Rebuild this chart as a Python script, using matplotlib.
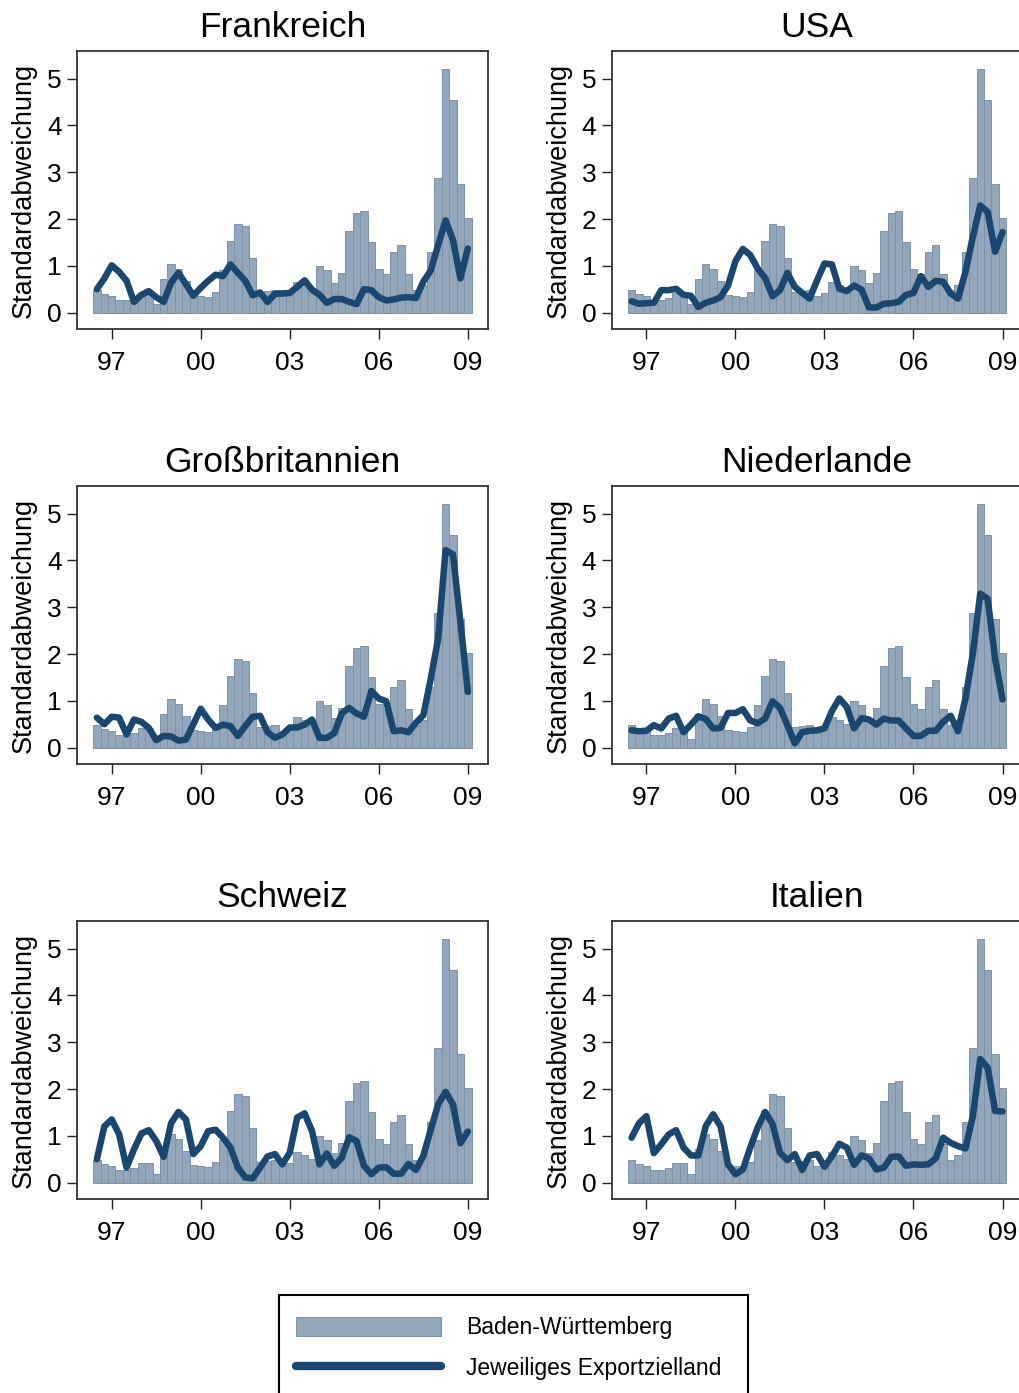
import matplotlib
matplotlib.use("Agg")
import matplotlib.pyplot as plt
from matplotlib.patches import Patch, Rectangle
from matplotlib.lines import Line2D
import numpy as np

plt.rcParams["font.family"] = ["Liberation Sans", "DejaVu Sans"]

# Quarterly observations 1996Q3 .. 2009Q1 (year + (quarter-1)/4)
first_year, first_quarter, n_quarters = 1996, 3, 51
quarters = [first_year + (first_quarter - 1 + i) / 4 for i in range(n_quarters)]

# Standard deviation, Baden-Württemberg (same in every panel)
bw = [0.48, 0.40, 0.36, 0.26, 0.28, 0.32, 0.42, 0.42, 0.19, 0.71,
      1.04, 0.94, 0.68, 0.38, 0.35, 0.33, 0.43, 0.90, 1.52, 1.90,
      1.86, 1.17, 0.43, 0.46, 0.48, 0.35, 0.42, 0.66, 0.59, 0.51,
      1.00, 0.90, 0.63, 0.85, 1.75, 2.12, 2.17, 1.51, 0.93, 0.83,
      1.30, 1.45, 0.83, 0.49, 0.58, 1.30, 2.88, 5.21, 4.54, 2.74, 2.03]

# Standard deviation, respective export destination
frankreich = [0.50, 0.73, 1.01, 0.87, 0.68, 0.23, 0.38, 0.46, 0.33, 0.23,
              0.64, 0.85, 0.61, 0.36, 0.53, 0.68, 0.81, 0.78, 1.03, 0.85,
              0.68, 0.37, 0.43, 0.23, 0.40, 0.41, 0.42, 0.55, 0.69, 0.49,
              0.38, 0.21, 0.29, 0.29, 0.23, 0.18, 0.50, 0.48, 0.33, 0.26,
              0.28, 0.32, 0.33, 0.31, 0.66, 0.90, 1.44, 1.97, 1.55, 0.73, 1.37]
usa = [0.24, 0.19, 0.20, 0.21, 0.48, 0.48, 0.51, 0.38, 0.36, 0.12,
       0.21, 0.26, 0.33, 0.58, 1.10, 1.36, 1.23, 0.94, 0.74, 0.35,
       0.48, 0.85, 0.55, 0.42, 0.30, 0.69, 1.05, 1.03, 0.51, 0.46,
       0.58, 0.49, 0.11, 0.11, 0.19, 0.20, 0.23, 0.38, 0.42, 0.78,
       0.55, 0.68, 0.66, 0.41, 0.30, 0.87, 1.62, 2.29, 2.15, 1.30, 1.72]
grossbritannien = [0.64, 0.50, 0.66, 0.64, 0.28, 0.60, 0.55, 0.42, 0.16, 0.25,
                   0.24, 0.15, 0.17, 0.50, 0.83, 0.60, 0.42, 0.49, 0.46, 0.25,
                   0.46, 0.66, 0.68, 0.33, 0.21, 0.28, 0.43, 0.43, 0.49, 0.60,
                   0.21, 0.21, 0.31, 0.73, 0.85, 0.73, 0.66, 1.21, 1.05, 0.99,
                   0.35, 0.37, 0.33, 0.53, 0.69, 1.47, 2.33, 4.22, 4.13, 2.69, 1.19]
niederlande = [0.37, 0.35, 0.36, 0.48, 0.41, 0.62, 0.68, 0.33, 0.49, 0.67,
               0.61, 0.41, 0.42, 0.74, 0.74, 0.82, 0.58, 0.52, 0.62, 0.99,
               0.85, 0.48, 0.09, 0.33, 0.36, 0.37, 0.41, 0.78, 1.05, 0.87,
               0.41, 0.63, 0.60, 0.49, 0.62, 0.58, 0.58, 0.41, 0.25, 0.25,
               0.36, 0.36, 0.55, 0.68, 0.35, 1.05, 2.01, 3.29, 3.18, 1.90, 1.03]
schweiz = [0.50, 1.20, 1.35, 1.03, 0.32, 0.71, 1.05, 1.12, 0.89, 0.55,
           1.27, 1.51, 1.35, 0.61, 0.78, 1.10, 1.13, 0.96, 0.75, 0.32,
           0.11, 0.09, 0.32, 0.56, 0.61, 0.39, 0.64, 1.39, 1.48, 1.10,
           0.39, 0.62, 0.36, 0.53, 0.97, 0.89, 0.36, 0.18, 0.32, 0.33,
           0.19, 0.19, 0.40, 0.27, 0.57, 1.13, 1.67, 1.94, 1.67, 0.84, 1.09]
italien = [0.96, 1.27, 1.42, 0.63, 0.82, 1.03, 1.12, 0.75, 0.58, 0.58,
           1.21, 1.46, 1.20, 0.39, 0.18, 0.28, 0.75, 1.18, 1.51, 1.25,
           0.64, 0.48, 0.61, 0.27, 0.58, 0.61, 0.34, 0.56, 0.83, 0.75,
           0.38, 0.58, 0.52, 0.28, 0.32, 0.55, 0.56, 0.36, 0.39, 0.38,
           0.39, 0.52, 0.96, 0.85, 0.78, 0.73, 1.42, 2.64, 2.46, 1.53, 1.52]

countries = ["Frankreich", "USA", "Großbritannien", "Niederlande", "Schweiz", "Italien"]
country_series = [frankreich, usa, grossbritannien, niederlande, schweiz, italien]

year_ticks = [1997, 2000, 2003, 2006, 2009]
year_labels = ["97", "00", "03", "06", "09"]
y_ticks = [0, 1, 2, 3, 4, 5]

legend_labels = ["Baden-Württemberg", "Jeweiliges Exportzielland"]

BAR_COLOR = "#94a6b9"
BAR_EDGE = "#7d92a8"
LINE_COLOR = "#1a476f"

W, H = 1020, 1393
fig = plt.figure(figsize=(W / 100, H / 100), dpi=100)

# panel frames in pixels: (left, top) ; common width/height
col_left = [77, 611.7]
row_top = [51, 486, 921]
pw, ph = 410.7, 278

for k, (name, series) in enumerate(zip(countries, country_series)):
    r, c = divmod(k, 2)
    left = col_left[c] / W
    bottom = 1 - (row_top[r] + ph) / H
    ax = fig.add_axes([left, bottom, pw / W, ph / H])
    ax.bar(quarters, bw, width=0.25, color=BAR_COLOR, edgecolor=BAR_EDGE,
           linewidth=0.7, zorder=2)
    ax.plot(quarters, series, color=LINE_COLOR, lw=4.7,
            solid_capstyle="round", solid_joinstyle="round", zorder=3)
    ax.set_xlim(1995.83, 2009.67)
    ax.set_ylim(-0.35, 5.59)
    ax.set_xticks(year_ticks)
    ax.set_xticklabels(year_labels)
    ax.set_yticks(y_ticks)
    ax.tick_params(axis="both", direction="out", length=7.5, width=1.0,
                   colors="#222222", labelsize=19, labelcolor="black")
    ax.tick_params(axis="x", pad=8)
    ax.tick_params(axis="y", pad=3.5)
    for s in ax.spines.values():
        s.set_color("#333333")
        s.set_linewidth(1.3)
    ax.set_title(name, fontsize=25.5, pad=10)
    ax.set_ylabel("Standardabweichung", fontsize=19.5, labelpad=7.5)

# legend
handles = [Patch(facecolor=BAR_COLOR, edgecolor=BAR_EDGE, linewidth=0.7),
           Line2D([0], [0], color=LINE_COLOR, lw=6, solid_capstyle="round")]
fig.legend(handles, legend_labels, loc="upper left",
           bbox_to_anchor=(279 / W, 1 - 1299 / H), frameon=False,
           fontsize=16.5, handlelength=6.3, handleheight=0.9,
           handletextpad=1.1, labelspacing=0.78, borderpad=0.75,
           borderaxespad=0)
fig.patches.append(Rectangle((279 / W, -0.05), (748 - 279) / W,
                             (1 - 1295 / H) + 0.05, transform=fig.transFigure,
                             fill=False, edgecolor="black", linewidth=1.5))

fig.savefig("out.png", dpi=100)
